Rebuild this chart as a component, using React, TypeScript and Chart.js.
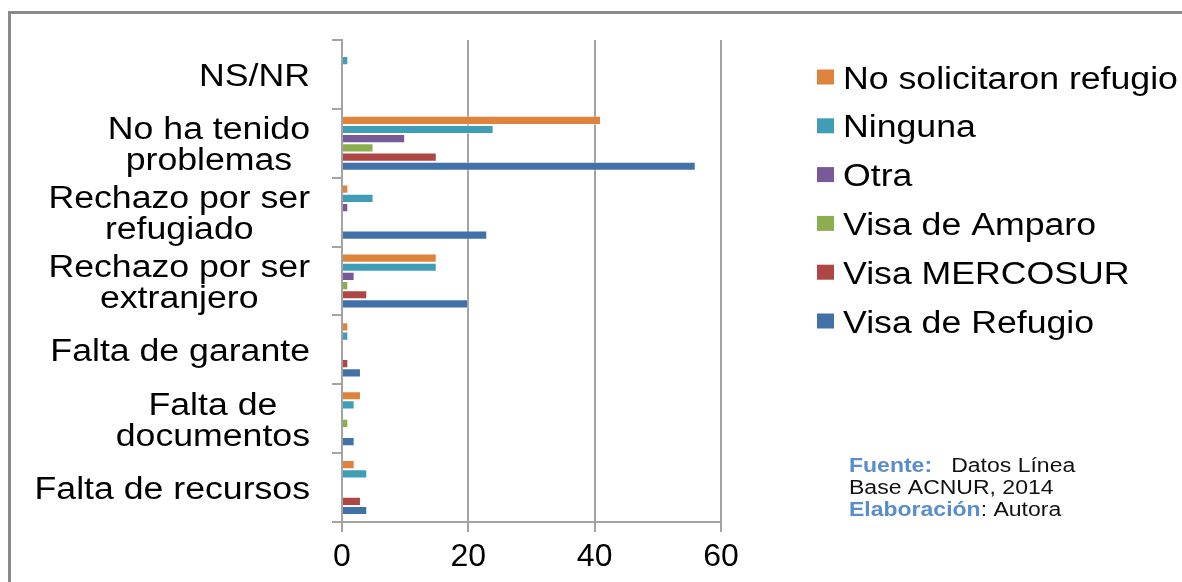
import React, { useEffect, useRef } from "react";
import { Chart, registerables } from "chart.js";

Chart.register(...registerables);

const categories: string[][] = [
  ["NS/NR"],
  ["No ha tenido", "problemas"],
  ["Rechazo por ser", "refugiado"],
  ["Rechazo por ser", "extranjero"],
  ["Falta de garante"],
  ["Falta de", "documentos"],
  ["Falta de recursos"],
];

const seriesNames = [
  "No solicitaron refugio",
  "Ninguna",
  "Otra",
  "Visa de Amparo",
  "Visa MERCOSUR",
  "Visa de Refugio",
];

const seriesColors = ["#DE823C", "#3F9DB8", "#775A97", "#8DAE50", "#AD4644", "#4270A8"];

const noSolicitaron = [0, 41, 1, 15, 1, 3, 2];
const ninguna = [1, 24, 5, 15, 1, 2, 4];
const otra = [0, 10, 1, 2, 0, 0, 0];
const visaAmparo = [0, 5, 0, 1, 0, 1, 0];
const visaMercosur = [0, 15, 0, 4, 1, 0, 3];
const visaRefugio = [0, 56, 23, 20, 3, 2, 4];

const xTicks = [0, 20, 40, 60];

const FONT = "'Liberation Sans', Arial, sans-serif";
const STRETCH = 1.15;

function stretchedText(ctx: CanvasRenderingContext2D, text: string, x: number, y: number, align: "left" | "center") {
  ctx.save();
  ctx.translate(x, y);
  ctx.scale(STRETCH, 1);
  ctx.textAlign = align;
  ctx.textBaseline = "middle";
  ctx.fillText(text, 0, 0);
  ctx.restore();
}

const customDraw = {
  id: "customDraw",
  afterDraw(chart: any) {
    const ctx: CanvasRenderingContext2D = chart.ctx;
    const yScale = chart.scales.y;
    // y labels
    ctx.save();
    ctx.fillStyle = "#000";
    ctx.font = `31px ${FONT}`;
    const rightEdge = 310;
    const lineH = 31;
    categories.forEach((lines, i) => {
      const cy = yScale.getPixelForValue(i) + 3;
      const maxW = Math.max(...lines.map((l) => ctx.measureText(l).width)) * STRETCH;
      const cx = rightEdge - maxW / 2;
      lines.forEach((l, j) => {
        const ly = cy + (j - (lines.length - 1) / 2) * lineH;
        stretchedText(ctx, l, cx, ly, "center");
      });
    });
    // legend
    chart.data.datasets.forEach((ds: any, i: number) => {
      const ly = 77 + i * 48.8;
      ctx.fillStyle = ds.backgroundColor;
      ctx.fillRect(817, ly - 7.5, 17, 15);
      ctx.fillStyle = "#000";
      ctx.font = `31px ${FONT}`;
      stretchedText(ctx, ds.label, 843, ly + 3, "left");
    });
    // source note
    const blue = "#5A8DCB";
    const sx = 849;
    const draw = (parts: [string, string, boolean][], y: number) => {
      let x = sx;
      parts.forEach(([t, color, bold]) => {
        ctx.font = `${bold ? "bold " : ""}20px ${FONT}`;
        ctx.fillStyle = color;
        stretchedText(ctx, t, x, y, "left");
        x += ctx.measureText(t).width * STRETCH;
      });
    };
    draw([["Fuente:", blue, true], ["   Datos Línea", "#111", false]], 466);
    draw([["Base ACNUR, 2014", "#111", false]], 488);
    draw([["Elaboración", blue, true], [": Autora", "#111", false]], 510);
    ctx.restore();
  },
};

export default function App() {
  const ref = useRef<HTMLCanvasElement | null>(null);
  useEffect(() => {
    if (!ref.current) return;
    const allSeries = [noSolicitaron, ninguna, otra, visaAmparo, visaMercosur, visaRefugio];
    const chart = new Chart(ref.current, {
      type: "bar",
      data: {
        labels: categories.map((c) => c.join(" ")),
        datasets: allSeries.map((d, i) => ({
          label: seriesNames[i],
          data: d,
          backgroundColor: seriesColors[i],
          borderColor: "rgba(255,255,255,0.45)",
          borderWidth: 1,
          categoryPercentage: 0.8,
          barPercentage: 1,
        })),
      },
      options: {
        indexAxis: "y",
        animation: false,
        responsive: true,
        maintainAspectRatio: false,
        layout: { padding: { top: 40, right: 461, left: 0, bottom: 0 } },
        plugins: { legend: { display: false }, tooltip: { enabled: false } },
        scales: {
          x: {
            min: 0,
            max: 60,
            afterBuildTicks: (scale: any) => {
              scale.ticks = xTicks.map((v) => ({ value: v }));
            },
            afterFit: (scale: any) => {
              scale.height = 60;
            },
            ticks: {
              color: "#000",
              font: { family: FONT, size: 32 },
              padding: 6,
            },
            grid: { color: "#a3a3a3", lineWidth: 2, tickLength: 10, drawTicks: true },
            border: { display: true, color: "#a3a3a3", width: 2 },
          },
          y: {
            afterFit: (scale: any) => {
              scale.width = 342;
            },
            ticks: { display: false },
            grid: { drawOnChartArea: false, drawTicks: true, tickLength: 10, color: "#a3a3a3", lineWidth: 2, offset: true },
            border: { display: true, color: "#a3a3a3", width: 2 },
          },
        },
      },
      plugins: [customDraw],
    });
    return () => chart.destroy();
  }, []);
  return (
    <div style={{ position: "absolute", left: 0, top: 0, width: 1182, height: 582, background: "#fff", overflow: "hidden" }}>
      <div
        style={{
          position: "absolute",
          left: 8,
          top: 11,
          width: 1300,
          height: 700,
          borderLeft: "3px solid #8a8a8a",
          borderTop: "3px solid #8a8a8a",
        }}
      />
      <div style={{ position: "absolute", left: 0, top: 0, width: 1182, height: 582 }}>
        <canvas ref={ref} />
      </div>
    </div>
  );
}
